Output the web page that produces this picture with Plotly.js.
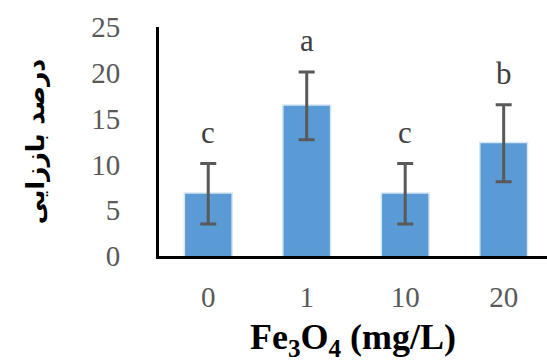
<!DOCTYPE html>
<html>
<head>
<meta charset="utf-8">
<script src="https://cdn.plot.ly/plotly-3.0.1.min.js"></script>
<style>html,body{margin:0;padding:0;background:#fff;}#chart{width:547px;height:362px;}</style>
</head>
<body>
<div id="chart"></div>
<script>
const categories = ["0", "1", "10", "20"];
const values = [6.8, 16.4, 6.8, 12.3];
const errors = [3.3, 3.7, 3.3, 4.2];
const letters = ["c", "a", "c", "b"];
const yTicks = [0, 5, 10, 15, 20, 25];

const letterOffset = 3.4;

const trace = {
  type: "bar",
  x: categories,
  y: values,
  marker: { color: "#5B9BD5", line: { color: "rgba(91,155,213,0.25)", width: 3 } },
  error_y: { type: "data", array: errors, visible: true, color: "#595959", thickness: 3, width: 8 },
  hoverinfo: "none"
};

const annotations = categories.map((c, i) => ({
  x: i, y: values[i] + errors[i] + letterOffset, xref: "x", yref: "y",
  text: letters[i], showarrow: false, yanchor: "middle",
  font: { family: "Liberation Serif, Times New Roman, serif", size: 31, color: "#404040" }
}));

const layout = {
  width: 547, height: 362,
  margin: { l: 159, r: 0, t: 27, b: 106 },
  paper_bgcolor: "#ffffff", plot_bgcolor: "#ffffff",
  showlegend: false,
  bargap: 0.53,
  xaxis: {
    type: "category",
    range: [-0.5, 3.44],
    showline: true, linecolor: "#000000", linewidth: 3,
    showgrid: false, zeroline: false,
    ticks: "outside", ticklen: 13, tickcolor: "rgba(0,0,0,0)",
    tickfont: { family: "Liberation Serif, Times New Roman, serif", size: 29, color: "#595959" },
    title: { text: "<b>Fe<sub>3</sub>O<sub>4</sub> (mg/L)</b>", standoff: 20,
      font: { family: "Liberation Serif, Times New Roman, serif", size: 36, color: "#000000" } }
  },
  yaxis: {
    range: [0, 25],
    tickvals: yTicks,
    showline: true, linecolor: "#000000", linewidth: 3,
    showgrid: false, zeroline: false,
    ticks: "outside", ticklen: 30, tickcolor: "rgba(0,0,0,0)",
    tickfont: { family: "Liberation Serif, Times New Roman, serif", size: 29, color: "#595959" },
    title: { text: "<b>درصد باززایی</b>", standoff: 40,
      font: { family: "DejaVu Sans, sans-serif", size: 25, color: "#000000" } }
  },
  annotations: annotations
};

Plotly.newPlot("chart", [trace], layout, { staticPlot: true, displayModeBar: false });
</script>
</body>
</html>
